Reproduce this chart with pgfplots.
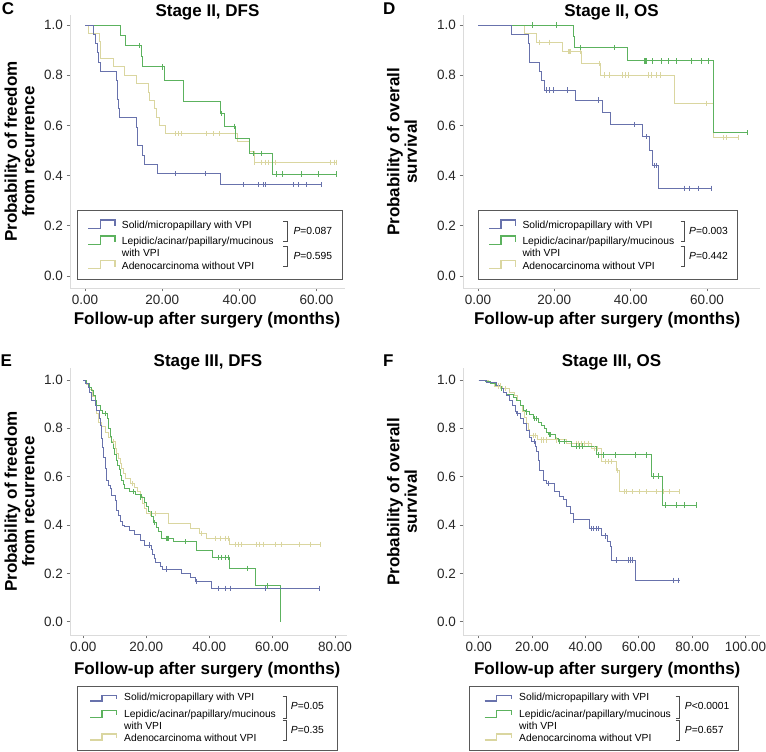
\documentclass[border=0pt]{standalone}
\usepackage{fontspec}
\setmainfont{Liberation Sans}
\usepackage{pgfplots}
\pgfplotsset{compat=1.18}
\definecolor{kmblue}{RGB}{104,114,172}
\definecolor{kmgreen}{RGB}{92,178,94}
\definecolor{kmtan}{RGB}{218,214,160}
\newcommand\bigbf{\fontsize{17}{17.5}\selectfont\bfseries}
\newcommand\legf{\fontsize{10.3}{12}\selectfont}
\newcommand\glyph[5]{\draw[#1, line width=1.1pt] (#2,#5) -- ({#2+0.45*(#3-#2)},#5) -- ({#2+0.45*(#3-#2)},#4) -- (#3,#4) -- (#3,{#5-1.8});}
\newcommand\bracket[3]{\draw[black!70, line width=0.7pt] ({#1-4},#2) -- (#1,#2) -- (#1,#3) -- ({#1-4},#3);}
\pgfplotsset{
 kmaxis/.style={
   scale only axis, anchor=south west,
   axis x line*=bottom, axis y line*=left,
   axis line style={draw=black!14, line width=0.9pt},
   every tick/.style={draw=black!55, line width=0.7pt},
   tick align=outside, major tick length=3.5pt,
   enlargelimits=false, clip=false,
   ytick={0,0.2,0.4,0.6,0.8,1.0},
   scaled ticks=false,
   /pgf/number format/assume math mode=true,
   yticklabel style={/pgf/number format/fixed, /pgf/number format/fixed zerofill, /pgf/number format/precision=1},
   xticklabel style={/pgf/number format/fixed, /pgf/number format/fixed zerofill, /pgf/number format/precision=2},
   tick label style={font=\fontsize{13.5}{14}\selectfont, text=black!85},
 },
 kmline/.style={const plot, line width=0.9pt, #1, mark=none},
 kmcens/.style={only marks, mark=|, mark size=2.6pt, line width=0.7pt, #1},
}
\begin{document}
\begin{tikzpicture}
\path[use as bounding box] (0pt,0pt) rectangle (766pt,752pt);
% ---------------- C: Stage II DFS
\begin{axis}[kmaxis, at={(70pt,464pt)}, width=275pt, height=273pt,
  xmin=-3.89, xmax=67.36, ymin=-0.048, ymax=1.04, xtick={0,20,40,60}]
\addplot[kmline=kmtan] coordinates {(0,1)(0.8,0.967)(3.7,0.933)(3.9,0.9)(4.1,0.867)(7.3,0.833)(10.1,0.8)(13.4,0.767)(16.4,0.733)(16.8,0.7)(18.1,0.667)(18.4,0.633)(19.4,0.6)(20.9,0.567)(39.4,0.537)(42.5,0.495)(43.8,0.453)(65.2,0.453)};
\addplot[kmcens=kmtan] coordinates {(23.3,0.567)(24.2,0.567)(25.0,0.567)(31.5,0.567)(33.2,0.567)(34.9,0.567)(44.0,0.453)(45.8,0.453)(46.6,0.453)(47.5,0.453)(49.2,0.453)(63.5,0.453)(64.6,0.453)(65.2,0.453)};
\addplot[kmline=kmgreen] coordinates {(0,1)(9.3,0.958)(10.4,0.917)(14.7,0.875)(14.9,0.833)(20.7,0.781)(25.6,0.694)(35.1,0.648)(36.0,0.597)(39.1,0.548)(42.7,0.489)(48.6,0.406)(65.0,0.406)};
\addplot[kmcens=kmgreen] coordinates {(14.0,0.917)(20.0,0.833)(35.4,0.648)(38.7,0.597)(43.6,0.489)(45.8,0.489)(49.6,0.406)(51.2,0.406)(56.1,0.406)(60.4,0.406)(65.0,0.406)};
\addplot[kmline=kmblue] coordinates {(0,1)(2.3,0.963)(2.7,0.926)(3.2,0.889)(3.5,0.852)(3.9,0.815)(8.2,0.778)(8.3,0.741)(8.5,0.704)(8.7,0.667)(9.0,0.630)(13.4,0.593)(13.5,0.556)(13.6,0.519)(14.9,0.481)(15.3,0.444)(18.7,0.407)(35.0,0.363)(61.3,0.363)};
\addplot[kmcens=kmblue] coordinates {(23.3,0.407)(31.3,0.407)(41.0,0.363)(44.9,0.363)(46.2,0.363)(46.6,0.363)(54.0,0.363)(55.4,0.363)(57.4,0.363)(61.3,0.363)};
\end{axis}
% ---------------- D: Stage II OS
\begin{axis}[kmaxis, at={(463pt,464pt)}, width=297pt, height=273pt,
  xmin=-3.93, xmax=73.9, ymin=-0.048, ymax=1.04, xtick={0,20,40,60}]
\addplot[kmline=kmtan] coordinates {(0,1)(12.2,0.966)(15.3,0.931)(22.1,0.894)(27.1,0.847)(32.2,0.801)(51.4,0.688)(61.6,0.551)(68.4,0.551)};
\addplot[kmcens=kmtan] coordinates {(16.2,0.931)(18.8,0.931)(23.6,0.894)(24.0,0.894)(24.3,0.894)(26.7,0.894)(31.9,0.847)(33.2,0.801)(34.5,0.801)(37.8,0.801)(38.5,0.801)(39.3,0.801)(44.6,0.801)(45.4,0.801)(46.8,0.801)(47.9,0.801)(59.9,0.688)(64.2,0.551)(65.1,0.551)(68.2,0.551)};
\addplot[kmline=kmgreen] coordinates {(0,1)(25.0,0.955)(25.4,0.909)(39.1,0.857)(61.6,0.571)(70.8,0.571)};
\addplot[kmcens=kmgreen] coordinates {(14.2,1)(20.4,1)(26.7,0.909)(35.8,0.909)(43.5,0.857)(43.9,0.857)(44.2,0.857)(45.7,0.857)(48.1,0.857)(50.0,0.857)(52.0,0.857)(55.9,0.857)(58.6,0.857)(60.3,0.857)(70.5,0.571)};
\addplot[kmline=kmblue] coordinates {(0,1)(8.7,0.963)(13.2,0.926)(13.4,0.889)(13.6,0.852)(16.2,0.815)(16.6,0.778)(17.3,0.741)(25.6,0.701)(32.5,0.65)(34.7,0.604)(43.1,0.555)(45.0,0.50)(45.7,0.44)(47.2,0.35)(61.2,0.35)};
\addplot[kmcens=kmblue] coordinates {(17.9,0.741)(18.8,0.741)(19.7,0.741)(23.4,0.741)(31.5,0.701)(41.1,0.604)(44.1,0.555)(46.3,0.44)(46.8,0.44)(54.2,0.35)(55.5,0.35)(57.7,0.35)(61.2,0.35)};
\end{axis}
% ---------------- E: Stage III DFS
\begin{axis}[kmaxis, at={(70pt,117pt)}, width=277pt, height=267pt,
  xmin=-4.23, xmax=83.8, ymin=-0.055, ymax=1.0497, xtick={0,20,40,60,80}]
\addplot[kmline=kmtan] coordinates {(0,1)(1.0,0.98)(2.1,0.96)(3.0,0.93)(3.7,0.90)(4.3,0.86)(4.8,0.826)(5.9,0.806)(6.9,0.785)(7.9,0.764)(9.0,0.744)(10.1,0.716)(10.6,0.695)(11.2,0.675)(11.7,0.655)(12.2,0.633)(12.8,0.612)(13.3,0.592)(14.9,0.571)(16.4,0.557)(17.2,0.54)(18.0,0.52)(18.8,0.49)(19.5,0.469)(20.1,0.448)(27.0,0.407)(33.9,0.386)(37.0,0.366)(39.2,0.345)(46.6,0.321)(75.2,0.321)};
\addplot[kmcens=kmtan] coordinates {(9.5,0.744)(15.5,0.571)(21.2,0.448)(22.8,0.448)(37.6,0.366)(41.9,0.345)(43.5,0.345)(45.0,0.345)(46.1,0.345)(48.2,0.321)(49.3,0.321)(50.3,0.321)(55.1,0.321)(56.1,0.321)(57.2,0.321)(60.9,0.321)(63.0,0.321)(68.8,0.321)(72.0,0.321)(75.2,0.321)};
\addplot[kmline=kmgreen] coordinates {(0,1)(1.0,0.985)(2.1,0.97)(2.7,0.955)(3.2,0.937)(3.8,0.915)(4.3,0.895)(5.3,0.875)(6.2,0.862)(7.7,0.84)(8.0,0.80)(8.5,0.765)(9.0,0.74)(9.5,0.717)(10.0,0.69)(10.6,0.669)(11.0,0.648)(11.4,0.628)(11.8,0.607)(12.2,0.586)(12.7,0.566)(13.2,0.552)(14.8,0.538)(16.5,0.528)(18.6,0.515)(19.5,0.495)(20.1,0.476)(20.8,0.455)(21.7,0.435)(22.2,0.41)(23.2,0.39)(23.9,0.372)(24.9,0.345)(28.6,0.331)(36.0,0.296)(41.1,0.266)(46.6,0.221)(54.7,0.148)(62.8,0.0)};
\addplot[kmcens=kmgreen] coordinates {(6.9,0.862)(15.9,0.538)(18.2,0.515)(22.5,0.41)(26.5,0.345)(26.8,0.345)(27.1,0.345)(32.3,0.331)(42.9,0.266)(43.9,0.266)(45.0,0.266)(46.0,0.266)(52.0,0.221)(58.4,0.148)};
\addplot[kmline=kmblue] coordinates {(0,1)(0.8,0.985)(1.5,0.97)(2.1,0.95)(2.7,0.916)(3.7,0.895)(4.3,0.875)(5.0,0.84)(5.3,0.812)(5.8,0.757)(6.1,0.72)(6.4,0.681)(6.9,0.633)(7.4,0.585)(8.0,0.565)(8.5,0.55)(9.0,0.523)(10.1,0.502)(10.6,0.462)(11.2,0.44)(11.7,0.414)(12.5,0.40)(13.2,0.393)(14.8,0.379)(16.4,0.359)(18.0,0.338)(19.4,0.317)(21.5,0.30)(22.0,0.28)(22.5,0.26)(22.8,0.245)(24.4,0.228)(25.2,0.218)(31.3,0.200)(33.9,0.184)(35.5,0.166)(40.8,0.138)(75.1,0.138)};
\addplot[kmcens=kmblue] coordinates {(21.0,0.317)(26.3,0.218)(36.0,0.166)(42.9,0.138)(45.0,0.138)(46.8,0.138)(57.7,0.138)(75.0,0.138)};
\end{axis}
% ---------------- F: Stage III OS
\begin{axis}[kmaxis, at={(463pt,117pt)}, width=297pt, height=267pt,
  xmin=-5.88, xmax=105.4, ymin=-0.055, ymax=1.0497, xtick={0,20,40,60,80,100}]
\addplot[kmline=kmtan] coordinates {(0,1)(3.5,0.99)(6.0,0.975)(9.0,0.965)(11.5,0.95)(13.5,0.935)(14.5,0.915)(15.5,0.895)(16.5,0.87)(17.2,0.845)(17.8,0.82)(18.5,0.795)(19.2,0.771)(22.0,0.752)(32.8,0.738)(42.3,0.717)(46.0,0.662)(51.5,0.624)(52.7,0.538)(75.0,0.538)};
\addplot[kmcens=kmtan] coordinates {(7.2,0.975)(8.2,0.975)(10.0,0.965)(20.5,0.771)(21.2,0.771)(23.5,0.752)(24.1,0.752)(25.3,0.752)(29.1,0.752)(36.6,0.738)(37.2,0.738)(38.5,0.738)(39.7,0.738)(41.0,0.738)(43.5,0.717)(44.5,0.717)(47.3,0.662)(48.5,0.662)(49.6,0.662)(52.0,0.624)(54.6,0.538)(55.2,0.538)(57.7,0.538)(60.2,0.538)(62.7,0.538)(66.5,0.538)(69.0,0.538)(71.5,0.538)(75.0,0.538)};
\addplot[kmline=kmgreen] coordinates {(0,1)(2.4,0.994)(4.5,0.985)(6.1,0.978)(8.0,0.964)(9.2,0.95)(10.5,0.939)(12.9,0.926)(14.2,0.916)(15.5,0.895)(16.6,0.875)(17.4,0.868)(19.2,0.857)(20.5,0.84)(22.4,0.826)(23.6,0.812)(24.5,0.80)(25.5,0.785)(26.3,0.774)(28.6,0.757)(30.0,0.745)(34.7,0.727)(44.1,0.69)(64.9,0.603)(68.9,0.483)(81.4,0.483)};
\addplot[kmcens=kmgreen] coordinates {(8.5,0.964)(17.8,0.868)(21.0,0.84)(21.6,0.84)(26.5,0.774)(26.9,0.774)(30.4,0.745)(32.2,0.745)(36.6,0.727)(37.8,0.727)(38.8,0.727)(44.7,0.69)(46.7,0.69)(51.1,0.69)(58.6,0.69)(63.0,0.69)(65.4,0.603)(67.2,0.603)(69.8,0.483)(74.2,0.483)(76.9,0.483)(81.4,0.483)};
\addplot[kmline=kmblue] coordinates {(0,1)(3.0,0.99)(6.7,0.978)(8.0,0.964)(9.2,0.947)(10.5,0.936)(11.7,0.916)(12.7,0.895)(13.6,0.87)(14.2,0.861)(15.5,0.84)(16.7,0.82)(17.9,0.792)(19.2,0.764)(19.8,0.744)(21.3,0.725)(21.8,0.705)(22.3,0.667)(22.8,0.626)(24.1,0.585)(25.3,0.571)(28.5,0.54)(30.4,0.52)(31.7,0.504)(33.0,0.476)(34.2,0.448)(35.4,0.421)(41.4,0.386)(46.1,0.355)(48.4,0.33)(49.2,0.31)(49.8,0.255)(58.6,0.172)(75.3,0.172)};
\addplot[kmcens=kmblue] coordinates {(14.5,0.861)(20.9,0.744)(26.0,0.571)(35.6,0.421)(42.3,0.386)(43.1,0.386)(44.0,0.386)(44.8,0.386)(47.3,0.355)(51.5,0.255)(55.9,0.255)(56.8,0.255)(57.5,0.255)(73.0,0.172)(74.7,0.172)};
\end{axis}
% ---------------- annotations (pixel coordinates, y downwards)
\begin{scope}[x=1pt, y=-1pt, yshift=752pt, every node/.style={inner sep=0pt, text=black}]
\node[anchor=base west, font=\bigbf] at (1.7,15) {C};
\node[anchor=base west, font=\bigbf] at (383,15) {D};
\node[anchor=base west, font=\bigbf] at (0.5,366.7) {E};
\node[anchor=base west, font=\bigbf] at (383,366.7) {F};
\node[anchor=base, font=\bigbf] at (207.5,16.7) {Stage II, DFS};
\node[anchor=base, font=\bigbf] at (611.5,16.7) {Stage II, OS};
\node[anchor=base, font=\bigbf] at (208,366.7) {Stage III, DFS};
\node[anchor=base, font=\bigbf] at (611.5,366.7) {Stage III, OS};
\node[rotate=90, align=center, font=\bigbf] at (19.5,151.7) {Probability of freedom\\from recurrence};
\node[rotate=90, align=center, font=\bigbf] at (402,151.7) {Probability of overall\\survival};
\node[rotate=90, align=center, font=\bigbf] at (19.5,501.7) {Probability of freedom\\from recurrence};
\node[rotate=90, align=center, font=\bigbf] at (402,501.7) {Probability of overall\\survival};
\node[anchor=base, font=\bigbf] at (207,325) {Follow-up after surgery (months)};
\node[anchor=base, font=\bigbf] at (607.2,325) {Follow-up after surgery (months)};
\node[anchor=base, font=\bigbf] at (207.2,675) {Follow-up after surgery (months)};
\node[anchor=base, font=\bigbf] at (607.2,675) {Follow-up after surgery (months)};
% legend C
\draw[black!65, line width=0.9pt, fill=white] (77.3,210) rectangle (342.3,279.3);
\glyph{kmblue}{88.3}{115}{220}{228.3}
\glyph{kmgreen}{88.3}{115}{236}{244.3}
\glyph{kmtan}{88.3}{115}{260.5}{268.8}
\node[anchor=base west, font=\legf] at (121.7,228.3) {Solid/micropapillary with VPI};
\node[anchor=base west, font=\legf] at (121.7,244.3) {Lepidic/acinar/papillary/mucinous};
\node[anchor=base west, font=\legf] at (121.7,256.7) {with VPI};
\node[anchor=base west, font=\legf] at (121.7,269.3) {Adenocarcinoma without VPI};
\bracket{287.3}{221}{241.7}
\bracket{287.3}{246.7}{266.7}
\node[anchor=base west, font=\legf] at (293.3,235) {\textit{P}=0.087};
\node[anchor=base west, font=\legf] at (293.3,260) {\textit{P}=0.595};
% legend D
\draw[black!65, line width=0.9pt, fill=white] (478,210) rectangle (737.3,279.3);
\glyph{kmblue}{489}{515.7}{220}{228.3}
\glyph{kmgreen}{489}{515.7}{236}{244.3}
\glyph{kmtan}{489}{515.7}{260.5}{268.8}
\node[anchor=base west, font=\legf] at (522.3,228.3) {Solid/micropapillary with VPI};
\node[anchor=base west, font=\legf] at (522.3,244.3) {Lepidic/acinar/papillary/mucinous};
\node[anchor=base west, font=\legf] at (522.3,256.7) {with VPI};
\node[anchor=base west, font=\legf] at (522.3,269.3) {Adenocarcinoma without VPI};
\bracket{684.7}{221}{241.7}
\bracket{684.7}{246.7}{266.7}
\node[anchor=base west, font=\legf] at (689,235) {\textit{P}=0.003};
\node[anchor=base west, font=\legf] at (689,260) {\textit{P}=0.442};
% legend E
\draw[black!65, line width=0.9pt, fill=white] (77.3,686.7) rectangle (337.3,750);
\glyph{kmblue}{90}{116.7}{695.7}{701}
\glyph{kmgreen}{90}{116.7}{710.7}{717.3}
\glyph{kmtan}{90}{116.7}{734}{740}
\node[anchor=base west, font=\legf] at (124,701) {Solid/micropapillary with VPI};
\node[anchor=base west, font=\legf] at (124,717.3) {Lepidic/acinar/papillary/mucinous};
\node[anchor=base west, font=\legf] at (124,729.3) {with VPI};
\node[anchor=base west, font=\legf] at (124,741.7) {Adenocarcinoma without VPI};
\bracket{286.7}{696}{718.3}
\bracket{286.7}{720.7}{740}
\node[anchor=base west, font=\legf] at (290.7,710) {\textit{P}=0.05};
\node[anchor=base west, font=\legf] at (290.7,733.3) {\textit{P}=0.35};
% legend F
\draw[black!65, line width=0.9pt, fill=white] (469,686.7) rectangle (738,750);
\glyph{kmblue}{484.7}{511.3}{695.7}{701}
\glyph{kmgreen}{484.7}{511.3}{710.7}{717.3}
\glyph{kmtan}{484.7}{511.3}{734}{740}
\node[anchor=base west, font=\legf] at (519,701) {Solid/micropapillary with VPI};
\node[anchor=base west, font=\legf] at (519,717.3) {Lepidic/acinar/papillary/mucinous};
\node[anchor=base west, font=\legf] at (519,729.3) {with VPI};
\node[anchor=base west, font=\legf] at (519,741.7) {Adenocarcinoma without VPI};
\bracket{679.7}{696}{718.3}
\bracket{679.7}{720.7}{740}
\node[anchor=base west, font=\legf] at (684.7,710) {\textit{P}<0.0001};
\node[anchor=base west, font=\legf] at (684.7,733.3) {\textit{P}=0.657};
\end{scope}
\end{tikzpicture}
\end{document}
